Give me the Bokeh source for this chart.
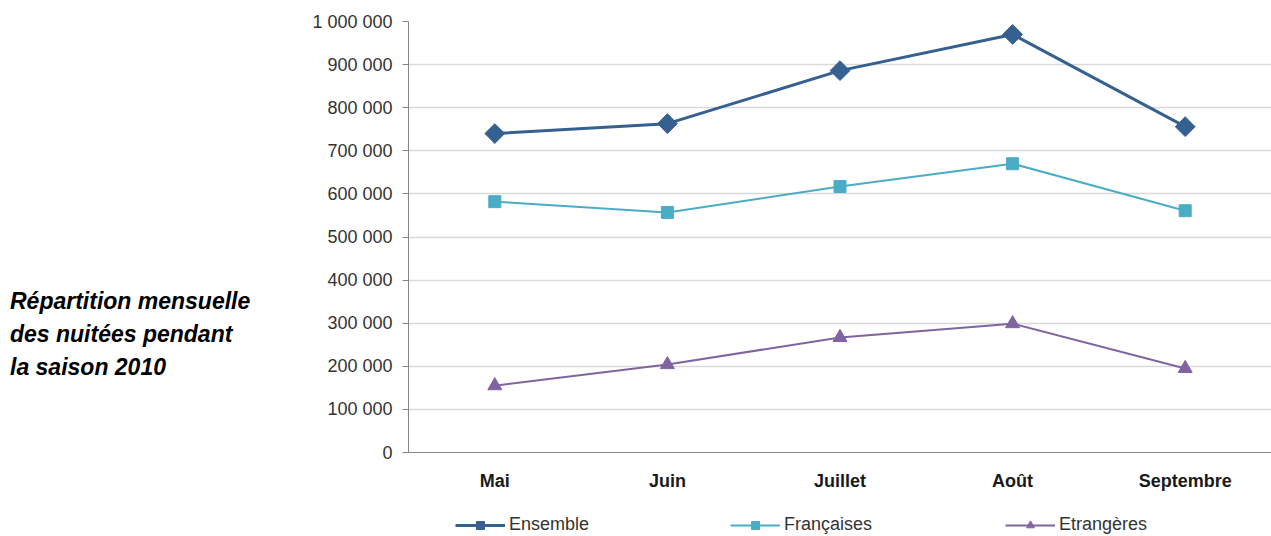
import math
from bokeh.plotting import figure
from bokeh.models import (FactorRange, Range1d, FixedTicker, CustomJSTickFormatter,
                          Legend, LegendItem, Div)
from bokeh.layouts import row, column
from bokeh.embed import file_html
from bokeh.resources import INLINE

months = ["Mai", "Juin", "Juillet", "Août", "Septembre"]
ensemble = [740000, 763000, 886000, 970000, 756000]
francaises = [582000, 557000, 617000, 670000, 561000]
etrangeres = [155000, 204000, 267000, 299000, 195000]
y_ticks = [0, 100000, 200000, 300000, 400000, 500000, 600000, 700000, 800000, 900000, 1000000]
series_names = ["Ensemble", "Françaises", "Etrangères"]

title_text = "Répartition mensuelle<br>des nuitées pendant<br>la saison 2010"

FONT = "Liberation Sans"
STYLES = [
    dict(color="#35608F", lw=3, marker="square", angle=math.pi / 4, size=14),
    dict(color="#4BACC6", lw=2, marker="square", angle=0.0, size=12),
    dict(color="#8064A2", lw=2, marker="triangle", angle=0.0, size=14),
]
SERIES = [ensemble, francaises, etrangeres]

p = figure(x_range=FactorRange(factors=months), y_range=Range1d(0, 1000000),
           width=1000, height=500, output_backend="svg", toolbar_location=None,
           min_border_left=137, min_border_right=0, min_border_top=21, min_border_bottom=48)
p.outline_line_color = None
p.background_fill_color = "white"

for vals, st in zip(SERIES, STYLES):
    p.line(months, vals, line_color=st["color"], line_width=st["lw"])
    p.scatter(months, vals, marker=st["marker"], angle=st["angle"], size=st["size"],
              fill_color=st["color"], line_color=st["color"])

# axes
p.xgrid.grid_line_color = None
p.ygrid.grid_line_color = "#d9d9d9"
p.ygrid.grid_line_width = 1.5

p.yaxis.ticker = FixedTicker(ticks=y_ticks)
p.yaxis.formatter = CustomJSTickFormatter(code="""
    return Math.round(tick).toString().replace(/\\B(?=(\\d{3})+(?!\\d))/g, ' ');
""")
p.yaxis.axis_line_color = "#868686"
p.yaxis.major_tick_line_color = "#868686"
p.yaxis.major_tick_out = 6
p.yaxis.major_tick_in = 0
p.yaxis.minor_tick_line_color = None
p.yaxis.major_label_text_font = FONT
p.yaxis.major_label_text_font_size = "18px"
p.yaxis.major_label_text_color = "#333333"
p.yaxis.major_label_standoff = 10

p.xaxis.axis_line_color = "#868686"
p.xaxis.major_tick_line_color = None
p.xaxis.minor_tick_line_color = None
p.xaxis.major_label_text_font = FONT
p.xaxis.major_label_text_font_size = "18px"
p.xaxis.major_label_text_font_style = "bold"
p.xaxis.major_label_text_color = "#1a1a1a"
p.xaxis.major_label_standoff = 12

# legend strip below the chart (its series lie outside its view; only the legend shows)
lf = figure(width=1000, height=36, output_backend="svg", toolbar_location=None,
            x_range=FactorRange(factors=months), y_range=Range1d(-2, -1),
            min_border_left=0, min_border_right=0, min_border_top=0, min_border_bottom=0)
lf.axis.visible = False
lf.grid.grid_line_color = None
lf.outline_line_color = None

items = []
for name, vals, st in zip(series_names, SERIES, STYLES):
    lr = lf.line(months, vals, line_color=st["color"], line_width=st["lw"])
    sr = lf.scatter(months, vals, marker=st["marker"], angle=st["angle"], size=st["size"],
                    fill_color=st["color"], line_color=st["color"])
    items.append(LegendItem(label=name, renderers=[lr, sr]))

legend = Legend(items=items, orientation="horizontal", location=(47, 1))
legend.border_line_color = None
legend.background_fill_alpha = 0
legend.padding = 0
legend.margin = 0
legend.spacing = 0
legend.glyph_width = 50
legend.glyph_height = 20
legend.label_width = 221
legend.label_standoff = 4
legend.label_text_font = FONT
legend.label_text_font_size = "18px"
legend.label_text_color = "#333333"
lf.add_layout(legend, "center")

div = Div(text=title_text, width=271, height=536, margin=0,
          styles={"font-family": FONT, "font-size": "23px", "font-weight": "bold",
                  "font-style": "italic", "line-height": "33px", "padding-top": "285px",
                  "padding-left": "10px", "color": "#000000"})

layout = row(div, column(p, lf))
open("out.html", "w").write(file_html(layout, INLINE))
